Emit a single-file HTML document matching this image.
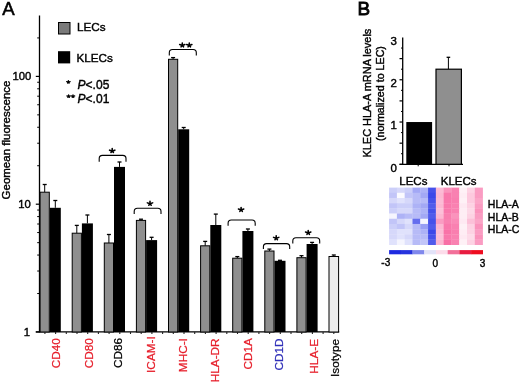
<!DOCTYPE html>
<html><head><meta charset="utf-8"><style>
html,body{margin:0;padding:0;background:#fff;}
svg{display:block;will-change:transform;}
text{stroke:#000;stroke-width:0.4px;font-family:"Liberation Sans",sans-serif;}
</style></head><body>
<svg width="520" height="384" viewBox="0 0 520 384">
<rect width="520" height="384" fill="#fff"/>
<line x1="39.5" y1="15.6" x2="39.5" y2="332.5" stroke="#000" stroke-width="1.3"/>
<line x1="35.8" y1="331.8" x2="339.2" y2="331.8" stroke="#000" stroke-width="1.3"/>
<line x1="35.8" y1="332.00" x2="39.5" y2="332.00" stroke="#000" stroke-width="1.2"/>
<line x1="37.2" y1="293.53" x2="39.5" y2="293.53" stroke="#000" stroke-width="1"/>
<line x1="37.2" y1="271.02" x2="39.5" y2="271.02" stroke="#000" stroke-width="1"/>
<line x1="37.2" y1="255.06" x2="39.5" y2="255.06" stroke="#000" stroke-width="1"/>
<line x1="37.2" y1="242.67" x2="39.5" y2="242.67" stroke="#000" stroke-width="1"/>
<line x1="37.2" y1="232.55" x2="39.5" y2="232.55" stroke="#000" stroke-width="1"/>
<line x1="37.2" y1="224.00" x2="39.5" y2="224.00" stroke="#000" stroke-width="1"/>
<line x1="37.2" y1="216.59" x2="39.5" y2="216.59" stroke="#000" stroke-width="1"/>
<line x1="37.2" y1="210.05" x2="39.5" y2="210.05" stroke="#000" stroke-width="1"/>
<line x1="35.8" y1="204.20" x2="39.5" y2="204.20" stroke="#000" stroke-width="1.2"/>
<line x1="37.2" y1="165.73" x2="39.5" y2="165.73" stroke="#000" stroke-width="1"/>
<line x1="37.2" y1="143.22" x2="39.5" y2="143.22" stroke="#000" stroke-width="1"/>
<line x1="37.2" y1="127.26" x2="39.5" y2="127.26" stroke="#000" stroke-width="1"/>
<line x1="37.2" y1="114.87" x2="39.5" y2="114.87" stroke="#000" stroke-width="1"/>
<line x1="37.2" y1="104.75" x2="39.5" y2="104.75" stroke="#000" stroke-width="1"/>
<line x1="37.2" y1="96.20" x2="39.5" y2="96.20" stroke="#000" stroke-width="1"/>
<line x1="37.2" y1="88.79" x2="39.5" y2="88.79" stroke="#000" stroke-width="1"/>
<line x1="37.2" y1="82.25" x2="39.5" y2="82.25" stroke="#000" stroke-width="1"/>
<line x1="35.8" y1="76.40" x2="39.5" y2="76.40" stroke="#000" stroke-width="1.2"/>
<line x1="37.2" y1="37.93" x2="39.5" y2="37.93" stroke="#000" stroke-width="1"/>
<text x="30.0" y="336.00" text-anchor="end" font-size="11.3" font-family="Liberation Sans, sans-serif">1</text>
<text x="30.8" y="208.20" text-anchor="end" font-size="11.3" font-family="Liberation Sans, sans-serif">10</text>
<text x="31.3" y="80.40" text-anchor="end" font-size="11.3" font-family="Liberation Sans, sans-serif">100</text>
<text transform="translate(9.8,140) rotate(-90)" text-anchor="middle" font-size="11.5" font-family="Liberation Sans, sans-serif">Geomean fluorescence</text>
<text x="2.2" y="15.0" font-size="18.6" style="stroke-width:0.55px" font-family="Liberation Sans, sans-serif">A</text>
<line x1="44.70" y1="184.50" x2="44.70" y2="192.20" stroke="#000" stroke-width="1"/>
<line x1="42.70" y1="184.50" x2="46.70" y2="184.50" stroke="#000" stroke-width="1.3"/>
<line x1="55.30" y1="200.50" x2="55.30" y2="207.80" stroke="#000" stroke-width="1"/>
<line x1="53.30" y1="200.50" x2="57.30" y2="200.50" stroke="#000" stroke-width="1.3"/>
<rect x="40.10" y="192.20" width="9.20" height="139.80" fill="#8f8f8f" stroke="#000" stroke-width="1"/>
<rect x="49.80" y="207.80" width="11.00" height="124.20" fill="#000"/>
<line x1="76.80" y1="225.40" x2="76.80" y2="233.20" stroke="#000" stroke-width="1"/>
<line x1="74.80" y1="225.40" x2="78.80" y2="225.40" stroke="#000" stroke-width="1.3"/>
<line x1="87.40" y1="215.00" x2="87.40" y2="223.40" stroke="#000" stroke-width="1"/>
<line x1="85.40" y1="215.00" x2="89.40" y2="215.00" stroke="#000" stroke-width="1.3"/>
<rect x="72.20" y="233.20" width="9.20" height="98.80" fill="#8f8f8f" stroke="#000" stroke-width="1"/>
<rect x="81.90" y="223.40" width="11.00" height="108.60" fill="#000"/>
<line x1="108.90" y1="234.50" x2="108.90" y2="243.00" stroke="#000" stroke-width="1"/>
<line x1="106.90" y1="234.50" x2="110.90" y2="234.50" stroke="#000" stroke-width="1.3"/>
<line x1="119.50" y1="162.00" x2="119.50" y2="166.90" stroke="#000" stroke-width="1"/>
<line x1="117.50" y1="162.00" x2="121.50" y2="162.00" stroke="#000" stroke-width="1.3"/>
<rect x="104.30" y="243.00" width="9.20" height="89.00" fill="#8f8f8f" stroke="#000" stroke-width="1"/>
<rect x="114.00" y="166.90" width="11.00" height="165.10" fill="#000"/>
<line x1="141.00" y1="219.20" x2="141.00" y2="220.40" stroke="#000" stroke-width="1"/>
<line x1="139.00" y1="219.20" x2="143.00" y2="219.20" stroke="#000" stroke-width="1.3"/>
<line x1="151.60" y1="237.30" x2="151.60" y2="240.10" stroke="#000" stroke-width="1"/>
<line x1="149.60" y1="237.30" x2="153.60" y2="237.30" stroke="#000" stroke-width="1.3"/>
<rect x="136.40" y="220.40" width="9.20" height="111.60" fill="#8f8f8f" stroke="#000" stroke-width="1"/>
<rect x="146.10" y="240.10" width="11.00" height="91.90" fill="#000"/>
<line x1="173.10" y1="57.60" x2="173.10" y2="59.30" stroke="#000" stroke-width="1"/>
<line x1="171.10" y1="57.60" x2="175.10" y2="57.60" stroke="#000" stroke-width="1.3"/>
<line x1="183.70" y1="127.50" x2="183.70" y2="129.30" stroke="#000" stroke-width="1"/>
<line x1="181.70" y1="127.50" x2="185.70" y2="127.50" stroke="#000" stroke-width="1.3"/>
<rect x="168.50" y="59.30" width="9.20" height="272.70" fill="#8f8f8f" stroke="#000" stroke-width="1"/>
<rect x="178.20" y="129.30" width="11.00" height="202.70" fill="#000"/>
<line x1="205.20" y1="241.40" x2="205.20" y2="245.80" stroke="#000" stroke-width="1"/>
<line x1="203.20" y1="241.40" x2="207.20" y2="241.40" stroke="#000" stroke-width="1.3"/>
<line x1="215.80" y1="214.10" x2="215.80" y2="225.00" stroke="#000" stroke-width="1"/>
<line x1="213.80" y1="214.10" x2="217.80" y2="214.10" stroke="#000" stroke-width="1.3"/>
<rect x="200.60" y="245.80" width="9.20" height="86.20" fill="#8f8f8f" stroke="#000" stroke-width="1"/>
<rect x="210.30" y="225.00" width="11.00" height="107.00" fill="#000"/>
<line x1="237.30" y1="256.60" x2="237.30" y2="258.20" stroke="#000" stroke-width="1"/>
<line x1="235.30" y1="256.60" x2="239.30" y2="256.60" stroke="#000" stroke-width="1.3"/>
<line x1="247.90" y1="229.00" x2="247.90" y2="231.00" stroke="#000" stroke-width="1"/>
<line x1="245.90" y1="229.00" x2="249.90" y2="229.00" stroke="#000" stroke-width="1.3"/>
<rect x="232.70" y="258.20" width="9.20" height="73.80" fill="#8f8f8f" stroke="#000" stroke-width="1"/>
<rect x="242.40" y="231.00" width="11.00" height="101.00" fill="#000"/>
<line x1="269.40" y1="249.10" x2="269.40" y2="251.00" stroke="#000" stroke-width="1"/>
<line x1="267.40" y1="249.10" x2="271.40" y2="249.10" stroke="#000" stroke-width="1.3"/>
<line x1="280.00" y1="260.30" x2="280.00" y2="260.80" stroke="#000" stroke-width="1"/>
<line x1="278.00" y1="260.30" x2="282.00" y2="260.30" stroke="#000" stroke-width="1.3"/>
<rect x="264.80" y="251.00" width="9.20" height="81.00" fill="#8f8f8f" stroke="#000" stroke-width="1"/>
<rect x="274.50" y="260.80" width="11.00" height="71.20" fill="#000"/>
<line x1="301.50" y1="255.70" x2="301.50" y2="257.70" stroke="#000" stroke-width="1"/>
<line x1="299.50" y1="255.70" x2="303.50" y2="255.70" stroke="#000" stroke-width="1.3"/>
<line x1="312.10" y1="242.40" x2="312.10" y2="244.00" stroke="#000" stroke-width="1"/>
<line x1="310.10" y1="242.40" x2="314.10" y2="242.40" stroke="#000" stroke-width="1.3"/>
<rect x="296.90" y="257.70" width="9.20" height="74.30" fill="#8f8f8f" stroke="#000" stroke-width="1"/>
<rect x="306.60" y="244.00" width="11.00" height="88.00" fill="#000"/>
<line x1="333.80" y1="255.00" x2="333.80" y2="256.50" stroke="#000" stroke-width="1"/>
<line x1="331.80" y1="255.00" x2="335.80" y2="255.00" stroke="#000" stroke-width="1.3"/>
<rect x="329.00" y="256.5" width="9.60" height="75.50" fill="#ececec" stroke="#000" stroke-width="1"/>
<line x1="44.90" y1="332.0" x2="44.90" y2="334.0" stroke="#222" stroke-width="1.1"/>
<line x1="55.60" y1="332.0" x2="55.60" y2="334.0" stroke="#222" stroke-width="1.1"/>
<line x1="66.30" y1="332.0" x2="66.30" y2="334.0" stroke="#222" stroke-width="1.1"/>
<line x1="77.00" y1="332.0" x2="77.00" y2="334.0" stroke="#222" stroke-width="1.1"/>
<line x1="87.70" y1="332.0" x2="87.70" y2="334.0" stroke="#222" stroke-width="1.1"/>
<line x1="98.40" y1="332.0" x2="98.40" y2="334.0" stroke="#222" stroke-width="1.1"/>
<line x1="109.10" y1="332.0" x2="109.10" y2="334.0" stroke="#222" stroke-width="1.1"/>
<line x1="119.80" y1="332.0" x2="119.80" y2="334.0" stroke="#222" stroke-width="1.1"/>
<line x1="130.50" y1="332.0" x2="130.50" y2="334.0" stroke="#222" stroke-width="1.1"/>
<line x1="141.20" y1="332.0" x2="141.20" y2="334.0" stroke="#222" stroke-width="1.1"/>
<line x1="151.90" y1="332.0" x2="151.90" y2="334.0" stroke="#222" stroke-width="1.1"/>
<line x1="162.60" y1="332.0" x2="162.60" y2="334.0" stroke="#222" stroke-width="1.1"/>
<line x1="173.30" y1="332.0" x2="173.30" y2="334.0" stroke="#222" stroke-width="1.1"/>
<line x1="184.00" y1="332.0" x2="184.00" y2="334.0" stroke="#222" stroke-width="1.1"/>
<line x1="194.70" y1="332.0" x2="194.70" y2="334.0" stroke="#222" stroke-width="1.1"/>
<line x1="205.40" y1="332.0" x2="205.40" y2="334.0" stroke="#222" stroke-width="1.1"/>
<line x1="216.10" y1="332.0" x2="216.10" y2="334.0" stroke="#222" stroke-width="1.1"/>
<line x1="226.80" y1="332.0" x2="226.80" y2="334.0" stroke="#222" stroke-width="1.1"/>
<line x1="237.50" y1="332.0" x2="237.50" y2="334.0" stroke="#222" stroke-width="1.1"/>
<line x1="248.20" y1="332.0" x2="248.20" y2="334.0" stroke="#222" stroke-width="1.1"/>
<line x1="258.90" y1="332.0" x2="258.90" y2="334.0" stroke="#222" stroke-width="1.1"/>
<line x1="269.60" y1="332.0" x2="269.60" y2="334.0" stroke="#222" stroke-width="1.1"/>
<line x1="280.30" y1="332.0" x2="280.30" y2="334.0" stroke="#222" stroke-width="1.1"/>
<line x1="291.00" y1="332.0" x2="291.00" y2="334.0" stroke="#222" stroke-width="1.1"/>
<line x1="301.70" y1="332.0" x2="301.70" y2="334.0" stroke="#222" stroke-width="1.1"/>
<line x1="312.40" y1="332.0" x2="312.40" y2="334.0" stroke="#222" stroke-width="1.1"/>
<line x1="323.10" y1="332.0" x2="323.10" y2="334.0" stroke="#222" stroke-width="1.1"/>
<line x1="333.80" y1="332.0" x2="333.80" y2="334.0" stroke="#222" stroke-width="1.1"/>
<path d="M99.20,161.70 L99.20,158.60 Q99.20,155.40 102.40,155.40 L122.80,155.40 Q126.00,155.40 126.00,158.60 L126.00,161.70" fill="none" stroke="#000" stroke-width="1.1"/>
<path d="M112.20,151.11L112.20,148.61M112.20,151.11L114.87,150.17M112.20,151.11L109.53,150.17M112.20,151.11L113.42,152.50M112.20,151.11L110.98,152.50" stroke="#000" stroke-width="1.56" stroke-linecap="round" fill="none"/>
<path d="M134.20,214.00 L134.20,211.50 Q134.20,208.30 137.40,208.30 L157.80,208.30 Q161.00,208.30 161.00,211.50 L161.00,214.00" fill="none" stroke="#000" stroke-width="1.1"/>
<path d="M150.00,203.81L150.00,201.31M150.00,203.81L152.67,202.87M150.00,203.81L147.33,202.87M150.00,203.81L151.22,205.20M150.00,203.81L148.78,205.20" stroke="#000" stroke-width="1.56" stroke-linecap="round" fill="none"/>
<path d="M169.30,55.40 L169.30,52.70 Q169.30,49.50 172.50,49.50 L193.10,49.50 Q196.30,49.50 196.30,52.70 L196.30,55.40" fill="none" stroke="#000" stroke-width="1.1"/>
<path d="M182.30,45.46L182.30,43.00M182.30,45.46L184.92,44.53M182.30,45.46L179.68,44.53M182.30,45.46L183.50,46.82M182.30,45.46L181.10,46.82" stroke="#000" stroke-width="1.58" stroke-linecap="round" fill="none"/>
<path d="M189.30,45.46L189.30,43.00M189.30,45.46L191.92,44.53M189.30,45.46L186.68,44.53M189.30,45.46L190.50,46.82M189.30,45.46L188.10,46.82" stroke="#000" stroke-width="1.58" stroke-linecap="round" fill="none"/>
<path d="M228.10,225.80 L228.10,223.20 Q228.10,220.00 231.30,220.00 L252.00,220.00 Q255.20,220.00 255.20,223.20 L255.20,225.80" fill="none" stroke="#000" stroke-width="1.1"/>
<path d="M241.10,209.91L241.10,207.41M241.10,209.91L243.77,208.97M241.10,209.91L238.43,208.97M241.10,209.91L242.32,211.30M241.10,209.91L239.88,211.30" stroke="#000" stroke-width="1.56" stroke-linecap="round" fill="none"/>
<path d="M263.40,249.10 L263.40,246.80 Q263.40,243.60 266.60,243.60 L286.50,243.60 Q289.70,243.60 289.70,246.80 L289.70,249.10" fill="none" stroke="#000" stroke-width="1.1"/>
<path d="M276.20,238.31L276.20,235.81M276.20,238.31L278.87,237.37M276.20,238.31L273.53,237.37M276.20,238.31L277.42,239.70M276.20,238.31L274.98,239.70" stroke="#000" stroke-width="1.56" stroke-linecap="round" fill="none"/>
<path d="M292.80,243.40 L292.80,241.00 Q292.80,237.80 296.00,237.80 L316.50,237.80 Q319.70,237.80 319.70,241.00 L319.70,243.40" fill="none" stroke="#000" stroke-width="1.1"/>
<path d="M308.20,232.91L308.20,230.41M308.20,232.91L310.87,231.97M308.20,232.91L305.53,231.97M308.20,232.91L309.42,234.30M308.20,232.91L306.98,234.30" stroke="#000" stroke-width="1.56" stroke-linecap="round" fill="none"/>
<text transform="translate(60.20,338.10) rotate(-90)" text-anchor="end" font-size="11.8" fill="#e61e2a" style="stroke:#e61e2a;stroke-width:0.25px" font-family="Liberation Sans, sans-serif">CD40</text>
<text transform="translate(92.70,338.10) rotate(-90)" text-anchor="end" font-size="11.8" fill="#e61e2a" style="stroke:#e61e2a;stroke-width:0.25px" font-family="Liberation Sans, sans-serif">CD80</text>
<text transform="translate(121.80,337.90) rotate(-90)" text-anchor="end" font-size="11.8" fill="#000" style="stroke:#000;stroke-width:0.25px" font-family="Liberation Sans, sans-serif">CD86</text>
<text transform="translate(155.40,336.20) rotate(-90)" text-anchor="end" font-size="11.8" fill="#e61e2a" style="stroke:#e61e2a;stroke-width:0.25px" font-family="Liberation Sans, sans-serif">ICAM-I</text>
<text transform="translate(187.30,338.10) rotate(-90)" text-anchor="end" font-size="11.8" fill="#e61e2a" style="stroke:#e61e2a;stroke-width:0.25px" font-family="Liberation Sans, sans-serif">MHC-I</text>
<text transform="translate(219.40,338.40) rotate(-90)" text-anchor="end" font-size="11.8" fill="#e61e2a" style="stroke:#e61e2a;stroke-width:0.25px" font-family="Liberation Sans, sans-serif">HLA-DR</text>
<text transform="translate(252.40,338.10) rotate(-90)" text-anchor="end" font-size="11.8" fill="#e61e2a" style="stroke:#e61e2a;stroke-width:0.25px" font-family="Liberation Sans, sans-serif">CD1A</text>
<text transform="translate(283.40,338.40) rotate(-90)" text-anchor="end" font-size="11.8" fill="#2e2eb8" style="stroke:#2e2eb8;stroke-width:0.25px" font-family="Liberation Sans, sans-serif">CD1D</text>
<text transform="translate(318.40,338.90) rotate(-90)" text-anchor="end" font-size="11.8" fill="#e61e2a" style="stroke:#e61e2a;stroke-width:0.25px" font-family="Liberation Sans, sans-serif">HLA-E</text>
<text transform="translate(338.50,338.90) rotate(-90)" text-anchor="end" font-size="11.8" fill="#000" style="stroke:#000;stroke-width:0.25px" font-family="Liberation Sans, sans-serif">Isotype</text>
<rect x="58.5" y="22.5" width="11.5" height="11.5" fill="#7a7a7a" stroke="#000" stroke-width="1"/>
<rect x="58" y="51.2" width="12.2" height="12.2" fill="#000"/>
<text x="77" y="31" font-size="11.7" font-family="Liberation Sans, sans-serif">LECs</text>
<text x="76.5" y="61.5" font-size="11.7" font-family="Liberation Sans, sans-serif">KLECs</text>
<path d="M68.40,82.17L68.40,80.59M68.40,82.17L70.09,81.57M68.40,82.17L66.71,81.57M68.40,82.17L69.17,83.05M68.40,82.17L67.63,83.05" stroke="#000" stroke-width="1.34" stroke-linecap="round" fill="none"/>
<path d="M68.60,96.47L68.60,94.89M68.60,96.47L70.29,95.87M68.60,96.47L66.91,95.87M68.60,96.47L69.37,97.35M68.60,96.47L67.83,97.35" stroke="#000" stroke-width="1.34" stroke-linecap="round" fill="none"/>
<path d="M73.00,96.47L73.00,94.89M73.00,96.47L74.69,95.87M73.00,96.47L71.31,95.87M73.00,96.47L73.77,97.35M73.00,96.47L72.23,97.35" stroke="#000" stroke-width="1.34" stroke-linecap="round" fill="none"/>
<text x="77.6" y="89.2" font-size="12" font-family="Liberation Sans, sans-serif"><tspan font-style="italic">P</tspan>&lt;.05</text>
<text x="77.6" y="102.8" font-size="12" font-family="Liberation Sans, sans-serif"><tspan font-style="italic">P</tspan>&lt;.01</text>
<text x="357.5" y="15.0" font-size="18.9" style="stroke-width:0.85px" font-family="Liberation Sans, sans-serif">B</text>
<line x1="402.7" y1="37.4" x2="402.7" y2="164.3" stroke="#000" stroke-width="1.3"/>
<line x1="399.5" y1="164.3" x2="463" y2="164.3" stroke="#000" stroke-width="1.2"/>
<line x1="399.5" y1="164.30" x2="402.7" y2="164.30" stroke="#000" stroke-width="1.2"/>
<line x1="401" y1="153.73" x2="402.7" y2="153.73" stroke="#000" stroke-width="1"/>
<line x1="399.5" y1="143.17" x2="402.7" y2="143.17" stroke="#000" stroke-width="1.2"/>
<line x1="401" y1="132.60" x2="402.7" y2="132.60" stroke="#000" stroke-width="1"/>
<line x1="399.5" y1="122.03" x2="402.7" y2="122.03" stroke="#000" stroke-width="1.2"/>
<line x1="401" y1="111.46" x2="402.7" y2="111.46" stroke="#000" stroke-width="1"/>
<line x1="399.5" y1="100.90" x2="402.7" y2="100.90" stroke="#000" stroke-width="1.2"/>
<line x1="401" y1="90.33" x2="402.7" y2="90.33" stroke="#000" stroke-width="1"/>
<line x1="399.5" y1="79.76" x2="402.7" y2="79.76" stroke="#000" stroke-width="1.2"/>
<line x1="401" y1="69.19" x2="402.7" y2="69.19" stroke="#000" stroke-width="1"/>
<line x1="399.5" y1="58.62" x2="402.7" y2="58.62" stroke="#000" stroke-width="1.2"/>
<line x1="401" y1="48.06" x2="402.7" y2="48.06" stroke="#000" stroke-width="1"/>
<text x="396.8" y="171.50" text-anchor="end" font-size="11.5" font-family="Liberation Sans, sans-serif">0</text>
<text x="396.8" y="129.23" text-anchor="end" font-size="11.5" font-family="Liberation Sans, sans-serif">1</text>
<text x="396.8" y="86.96" text-anchor="end" font-size="11.5" font-family="Liberation Sans, sans-serif">2</text>
<text x="396.8" y="44.69" text-anchor="end" font-size="11.5" font-family="Liberation Sans, sans-serif">3</text>
<rect x="406.3" y="122.03" width="25.8" height="42.27" fill="#000"/>
<line x1="448.4" y1="57.3" x2="448.4" y2="69" stroke="#000" stroke-width="1"/>
<line x1="446.6" y1="57.3" x2="450.2" y2="57.3" stroke="#000" stroke-width="1.3"/>
<rect x="436" y="69.2" width="25.4" height="95.10" fill="#8f8f8f" stroke="#000" stroke-width="1.2"/>
<line x1="418.2" y1="164.3" x2="418.2" y2="166.3" stroke="#000" stroke-width="1"/>
<line x1="449" y1="164.3" x2="449" y2="166.3" stroke="#000" stroke-width="1"/>
<text transform="translate(371.4,93.1) rotate(-90)" text-anchor="middle" font-size="10.95" font-family="Liberation Sans, sans-serif">KLEC HLA-A mRNA levels</text>
<text transform="translate(384.1,93.6) rotate(-90)" text-anchor="middle" font-size="10.7" font-family="Liberation Sans, sans-serif">(normalized to LEC)</text>
<rect x="389.10" y="187.60" width="8.09" height="5.49" fill="#cccff9"/>
<rect x="396.89" y="187.60" width="8.09" height="5.49" fill="#d6d8fa"/>
<rect x="404.68" y="187.60" width="8.09" height="5.49" fill="#cccff9"/>
<rect x="412.48" y="187.60" width="8.09" height="5.49" fill="#a3a8f5"/>
<rect x="420.27" y="187.60" width="8.09" height="5.49" fill="#adb2f6"/>
<rect x="428.06" y="187.60" width="8.09" height="5.49" fill="#4651ea"/>
<rect x="435.85" y="187.60" width="8.09" height="5.49" fill="#fcbbd5"/>
<rect x="443.64" y="187.60" width="8.09" height="5.49" fill="#fa93bc"/>
<rect x="451.43" y="187.60" width="8.09" height="5.49" fill="#f981b1"/>
<rect x="459.23" y="187.60" width="8.09" height="5.49" fill="#fef1f6"/>
<rect x="467.02" y="187.60" width="8.09" height="5.49" fill="#fdd2e3"/>
<rect x="474.81" y="187.60" width="8.09" height="5.49" fill="#fa9cc2"/>
<rect x="389.10" y="192.79" width="8.09" height="5.49" fill="#c2c5f8"/>
<rect x="396.89" y="192.79" width="8.09" height="5.49" fill="#fbfbff"/>
<rect x="404.68" y="192.79" width="8.09" height="5.49" fill="#c2c5f8"/>
<rect x="412.48" y="192.79" width="8.09" height="5.49" fill="#b7bbf7"/>
<rect x="420.27" y="192.79" width="8.09" height="5.49" fill="#a3a8f5"/>
<rect x="428.06" y="192.79" width="8.09" height="5.49" fill="#3c48e9"/>
<rect x="435.85" y="192.79" width="8.09" height="5.49" fill="#fcb7d2"/>
<rect x="443.64" y="192.79" width="8.09" height="5.49" fill="#f978ac"/>
<rect x="451.43" y="192.79" width="8.09" height="5.49" fill="#f981b1"/>
<rect x="459.23" y="192.79" width="8.09" height="5.49" fill="#feedf4"/>
<rect x="467.02" y="192.79" width="8.09" height="5.49" fill="#fdc9de"/>
<rect x="474.81" y="192.79" width="8.09" height="5.49" fill="#fa9cc2"/>
<rect x="389.10" y="197.98" width="8.09" height="5.49" fill="#d6d8fa"/>
<rect x="396.89" y="197.98" width="8.09" height="5.49" fill="#e0e2fc"/>
<rect x="404.68" y="197.98" width="8.09" height="5.49" fill="#d6d8fa"/>
<rect x="412.48" y="197.98" width="8.09" height="5.49" fill="#b7bbf7"/>
<rect x="420.27" y="197.98" width="8.09" height="5.49" fill="#b7bbf7"/>
<rect x="428.06" y="197.98" width="8.09" height="5.49" fill="#4651ea"/>
<rect x="435.85" y="197.98" width="8.09" height="5.49" fill="#fcbbd5"/>
<rect x="443.64" y="197.98" width="8.09" height="5.49" fill="#f978ac"/>
<rect x="451.43" y="197.98" width="8.09" height="5.49" fill="#f97eaf"/>
<rect x="459.23" y="197.98" width="8.09" height="5.49" fill="#fef1f6"/>
<rect x="467.02" y="197.98" width="8.09" height="5.49" fill="#fdc9de"/>
<rect x="474.81" y="197.98" width="8.09" height="5.49" fill="#fba5c7"/>
<rect x="389.10" y="203.17" width="8.09" height="5.49" fill="#c2c5f8"/>
<rect x="396.89" y="203.17" width="8.09" height="5.49" fill="#cccff9"/>
<rect x="404.68" y="203.17" width="8.09" height="5.49" fill="#cccff9"/>
<rect x="412.48" y="203.17" width="8.09" height="5.49" fill="#adb2f6"/>
<rect x="420.27" y="203.17" width="8.09" height="5.49" fill="#a3a8f5"/>
<rect x="428.06" y="203.17" width="8.09" height="5.49" fill="#515beb"/>
<rect x="435.85" y="203.17" width="8.09" height="5.49" fill="#fcb7d2"/>
<rect x="443.64" y="203.17" width="8.09" height="5.49" fill="#f978ac"/>
<rect x="451.43" y="203.17" width="8.09" height="5.49" fill="#f981b1"/>
<rect x="459.23" y="203.17" width="8.09" height="5.49" fill="#fee9f2"/>
<rect x="467.02" y="203.17" width="8.09" height="5.49" fill="#fdd2e3"/>
<rect x="474.81" y="203.17" width="8.09" height="5.49" fill="#fa9cc2"/>
<rect x="389.10" y="208.36" width="8.09" height="5.49" fill="#cccff9"/>
<rect x="396.89" y="208.36" width="8.09" height="5.49" fill="#d6d8fa"/>
<rect x="404.68" y="208.36" width="8.09" height="5.49" fill="#d6d8fa"/>
<rect x="412.48" y="208.36" width="8.09" height="5.49" fill="#b7bbf7"/>
<rect x="420.27" y="208.36" width="8.09" height="5.49" fill="#adb2f6"/>
<rect x="428.06" y="208.36" width="8.09" height="5.49" fill="#4651ea"/>
<rect x="435.85" y="208.36" width="8.09" height="5.49" fill="#fcc0d8"/>
<rect x="443.64" y="208.36" width="8.09" height="5.49" fill="#f978ac"/>
<rect x="451.43" y="208.36" width="8.09" height="5.49" fill="#f981b1"/>
<rect x="459.23" y="208.36" width="8.09" height="5.49" fill="#feedf4"/>
<rect x="467.02" y="208.36" width="8.09" height="5.49" fill="#fdd8e7"/>
<rect x="474.81" y="208.36" width="8.09" height="5.49" fill="#fa93bc"/>
<rect x="389.10" y="213.55" width="8.09" height="5.49" fill="#f5f5fe"/>
<rect x="396.89" y="213.55" width="8.09" height="5.49" fill="#adb2f6"/>
<rect x="404.68" y="213.55" width="8.09" height="5.49" fill="#b7bbf7"/>
<rect x="412.48" y="213.55" width="8.09" height="5.49" fill="#b7bbf7"/>
<rect x="420.27" y="213.55" width="8.09" height="5.49" fill="#a3a8f5"/>
<rect x="428.06" y="213.55" width="8.09" height="5.49" fill="#515beb"/>
<rect x="435.85" y="213.55" width="8.09" height="5.49" fill="#fcb7d2"/>
<rect x="443.64" y="213.55" width="8.09" height="5.49" fill="#f97eaf"/>
<rect x="451.43" y="213.55" width="8.09" height="5.49" fill="#fa93bc"/>
<rect x="459.23" y="213.55" width="8.09" height="5.49" fill="#feedf4"/>
<rect x="467.02" y="213.55" width="8.09" height="5.49" fill="#fdd2e3"/>
<rect x="474.81" y="213.55" width="8.09" height="5.49" fill="#fa9cc2"/>
<rect x="389.10" y="218.75" width="8.09" height="5.49" fill="#c2c5f8"/>
<rect x="396.89" y="218.75" width="8.09" height="5.49" fill="#d6d8fa"/>
<rect x="404.68" y="218.75" width="8.09" height="5.49" fill="#e0e2fc"/>
<rect x="412.48" y="218.75" width="8.09" height="5.49" fill="#656eee"/>
<rect x="420.27" y="218.75" width="8.09" height="5.49" fill="#f5f5fe"/>
<rect x="428.06" y="218.75" width="8.09" height="5.49" fill="#4651ea"/>
<rect x="435.85" y="218.75" width="8.09" height="5.49" fill="#fa9cc2"/>
<rect x="443.64" y="218.75" width="8.09" height="5.49" fill="#f981b1"/>
<rect x="451.43" y="218.75" width="8.09" height="5.49" fill="#fa8ab7"/>
<rect x="459.23" y="218.75" width="8.09" height="5.49" fill="#fee9f2"/>
<rect x="467.02" y="218.75" width="8.09" height="5.49" fill="#fcc0d8"/>
<rect x="474.81" y="218.75" width="8.09" height="5.49" fill="#fba5c7"/>
<rect x="389.10" y="223.94" width="8.09" height="5.49" fill="#cccff9"/>
<rect x="396.89" y="223.94" width="8.09" height="5.49" fill="#c2c5f8"/>
<rect x="404.68" y="223.94" width="8.09" height="5.49" fill="#d6d8fa"/>
<rect x="412.48" y="223.94" width="8.09" height="5.49" fill="#b7bbf7"/>
<rect x="420.27" y="223.94" width="8.09" height="5.49" fill="#989ef4"/>
<rect x="428.06" y="223.94" width="8.09" height="5.49" fill="#515beb"/>
<rect x="435.85" y="223.94" width="8.09" height="5.49" fill="#fcb7d2"/>
<rect x="443.64" y="223.94" width="8.09" height="5.49" fill="#f978ac"/>
<rect x="451.43" y="223.94" width="8.09" height="5.49" fill="#f981b1"/>
<rect x="459.23" y="223.94" width="8.09" height="5.49" fill="#fef1f6"/>
<rect x="467.02" y="223.94" width="8.09" height="5.49" fill="#fdd2e3"/>
<rect x="474.81" y="223.94" width="8.09" height="5.49" fill="#fa93bc"/>
<rect x="389.10" y="229.13" width="8.09" height="5.49" fill="#d6d8fa"/>
<rect x="396.89" y="229.13" width="8.09" height="5.49" fill="#e0e2fc"/>
<rect x="404.68" y="229.13" width="8.09" height="5.49" fill="#e0e2fc"/>
<rect x="412.48" y="229.13" width="8.09" height="5.49" fill="#b7bbf7"/>
<rect x="420.27" y="229.13" width="8.09" height="5.49" fill="#adb2f6"/>
<rect x="428.06" y="229.13" width="8.09" height="5.49" fill="#3c48e9"/>
<rect x="435.85" y="229.13" width="8.09" height="5.49" fill="#fcbbd5"/>
<rect x="443.64" y="229.13" width="8.09" height="5.49" fill="#f973a8"/>
<rect x="451.43" y="229.13" width="8.09" height="5.49" fill="#f97eaf"/>
<rect x="459.23" y="229.13" width="8.09" height="5.49" fill="#feedf4"/>
<rect x="467.02" y="229.13" width="8.09" height="5.49" fill="#fdd2e3"/>
<rect x="474.81" y="229.13" width="8.09" height="5.49" fill="#fa9cc2"/>
<rect x="389.10" y="234.32" width="8.09" height="5.49" fill="#d6d8fa"/>
<rect x="396.89" y="234.32" width="8.09" height="5.49" fill="#e0e2fc"/>
<rect x="404.68" y="234.32" width="8.09" height="5.49" fill="#d6d8fa"/>
<rect x="412.48" y="234.32" width="8.09" height="5.49" fill="#b7bbf7"/>
<rect x="420.27" y="234.32" width="8.09" height="5.49" fill="#b7bbf7"/>
<rect x="428.06" y="234.32" width="8.09" height="5.49" fill="#4651ea"/>
<rect x="435.85" y="234.32" width="8.09" height="5.49" fill="#fcc0d8"/>
<rect x="443.64" y="234.32" width="8.09" height="5.49" fill="#f978ac"/>
<rect x="451.43" y="234.32" width="8.09" height="5.49" fill="#f981b1"/>
<rect x="459.23" y="234.32" width="8.09" height="5.49" fill="#fee9f2"/>
<rect x="467.02" y="234.32" width="8.09" height="5.49" fill="#fddbe9"/>
<rect x="474.81" y="234.32" width="8.09" height="5.49" fill="#fa93bc"/>
<rect x="389.10" y="239.51" width="8.09" height="5.49" fill="#e0e2fc"/>
<rect x="396.89" y="239.51" width="8.09" height="5.49" fill="#f5f5fe"/>
<rect x="404.68" y="239.51" width="8.09" height="5.49" fill="#e0e2fc"/>
<rect x="412.48" y="239.51" width="8.09" height="5.49" fill="#b7bbf7"/>
<rect x="420.27" y="239.51" width="8.09" height="5.49" fill="#c2c5f8"/>
<rect x="428.06" y="239.51" width="8.09" height="5.49" fill="#515beb"/>
<rect x="435.85" y="239.51" width="8.09" height="5.49" fill="#fcb7d2"/>
<rect x="443.64" y="239.51" width="8.09" height="5.49" fill="#f86fa6"/>
<rect x="451.43" y="239.51" width="8.09" height="5.49" fill="#f981b1"/>
<rect x="459.23" y="239.51" width="8.09" height="5.49" fill="#fef1f6"/>
<rect x="467.02" y="239.51" width="8.09" height="5.49" fill="#fdd2e3"/>
<rect x="474.81" y="239.51" width="8.09" height="5.49" fill="#fa9cc2"/>
<text x="399.3" y="185.3" font-size="11.5" font-family="Liberation Sans, sans-serif">LECs</text>
<text x="440.8" y="185.3" font-size="11.5" font-family="Liberation Sans, sans-serif">KLECs</text>
<text x="487.8" y="207.90" font-size="10.5" font-family="Liberation Sans, sans-serif">HLA-A</text>
<text x="487.8" y="220.65" font-size="10.5" font-family="Liberation Sans, sans-serif">HLA-B</text>
<text x="487.8" y="233.40" font-size="10.5" font-family="Liberation Sans, sans-serif">HLA-C</text>
<rect x="389.10" y="250.1" width="11.91" height="4.2" fill="#1e2ae0"/>
<rect x="400.81" y="250.1" width="11.91" height="4.2" fill="#2634de"/>
<rect x="412.53" y="250.1" width="11.91" height="4.2" fill="#8088ec"/>
<rect x="424.24" y="250.1" width="11.91" height="4.2" fill="#e2e2f8"/>
<rect x="435.95" y="250.1" width="11.91" height="4.2" fill="#fcdcea"/>
<rect x="447.66" y="250.1" width="11.91" height="4.2" fill="#f2709a"/>
<rect x="459.38" y="250.1" width="11.91" height="4.2" fill="#e81c40"/>
<rect x="471.09" y="250.1" width="11.91" height="4.2" fill="#ee0c20"/>
<text x="385.8" y="266.4" text-anchor="middle" font-size="10" style="stroke-width:0.4px" font-family="Liberation Sans, sans-serif">-3</text>
<text x="435.2" y="266.6" text-anchor="middle" font-size="10" style="stroke-width:0.4px" font-family="Liberation Sans, sans-serif">0</text>
<text x="482.5" y="266.6" text-anchor="middle" font-size="10" style="stroke-width:0.4px" font-family="Liberation Sans, sans-serif">3</text>
</svg>
</body></html>
